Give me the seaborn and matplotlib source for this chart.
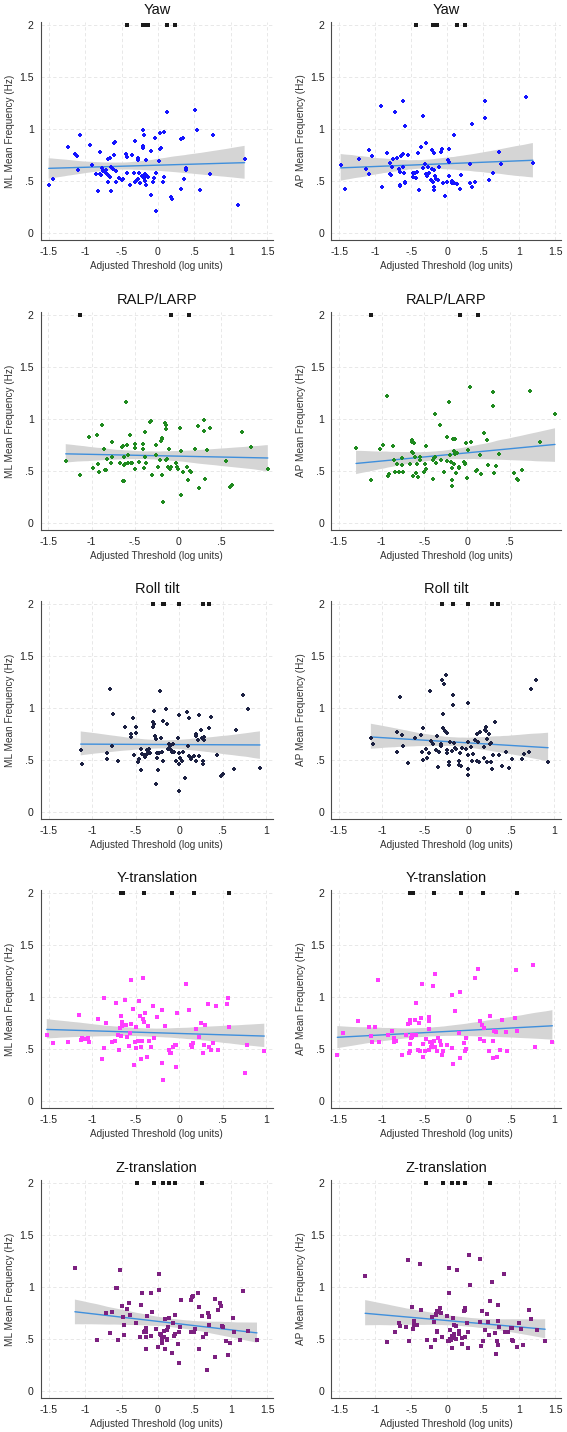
import numpy as np
import pandas as pd
import matplotlib
matplotlib.use("Agg")
import matplotlib.pyplot as plt
import seaborn as sns

sns.set_style("white")
plt.rcParams['font.family'] = ['Liberation Sans', 'DejaVu Sans']

# ---------------- data ----------------
titles = ["Yaw", "RALP/LARP", "Roll tilt", "Y-translation", "Z-translation"]
ylabels = ["ML Mean Frequency (Hz)", "AP Mean Frequency (Hz)"]
xlabel = "Adjusted Threshold (log units)"
point_colors = ["#1414ff", "#1f8a1f", "#1c2142", "#ff3cff", "#7c2080"]

yticks = [0, 0.5, 1, 1.5, 2]
ytick_labels = ["0", ".5", "1", "1.5", "2"]
xticks_r1 = [-1.5, -1, -0.5, 0, 0.5, 1, 1.5]
xlabels_r1 = ["-1.5", "-1", "-.5", "0", ".5", "1", "1.5"]
xticks_r2 = [-1.5, -1, -0.5, 0, 0.5]
xlabels_r2 = ["-1.5", "-1", "-.5", "0", ".5"]
xticks_r3 = [-1.5, -1, -0.5, 0, 0.5, 1]
xlabels_r3 = ["-1.5", "-1", "-.5", "0", ".5", "1"]

# Yaw
yaw_ml = [(-1.50,0.46),(-1.44,0.52),(-1.24,0.83),(-1.14,0.76),(-1.11,0.74),(-1.10,0.61),(-1.07,0.94),(-0.93,0.85),(-0.90,0.65),(-0.85,0.57),(-0.82,0.40),(-0.80,0.57),(-0.79,0.78),(-0.78,0.56),(-0.77,0.63),(-0.75,0.60),(-0.72,0.61),(-0.71,0.58),(-0.69,0.56),(-0.68,0.49),(-0.68,0.71),(-0.66,0.72),(-0.66,0.54),(-0.65,0.64),(-0.64,0.40),(-0.62,0.62),(-0.61,0.87),(-0.60,0.75),(-0.59,0.88),(-0.58,0.49),(-0.57,0.60),(-0.53,0.53),(-0.49,0.51),(-0.48,0.52),(-0.44,0.76),(-0.43,0.58),(-0.42,0.73),(-0.42,0.58),(-0.38,0.46),(-0.35,0.75),(-0.33,0.58),(-0.32,0.89),(-0.31,0.49),(-0.30,0.50),(-0.28,0.72),(-0.27,0.70),(-0.27,0.52),(-0.26,0.58),(-0.24,0.48),(-0.22,0.55),(-0.21,0.99),(-0.21,0.84),(-0.20,0.82),(-0.19,0.94),(-0.19,0.53),(-0.18,0.57),(-0.18,0.50),(-0.17,0.46),(-0.17,0.70),(-0.16,0.56),(-0.14,0.54),(-0.10,0.79),(-0.10,0.37),(-0.07,0.49),(-0.06,0.53),(-0.04,0.91),(-0.03,0.21),(-0.02,0.58),(0.02,0.69),(0.03,0.96),(0.03,0.81),(0.04,0.82),(0.07,0.49),(0.08,0.54),(0.09,0.97),(0.13,1.16),(0.18,0.35),(0.19,0.33),(0.31,0.42),(0.32,0.90),(0.35,0.91),(0.36,0.52),(0.38,0.63),(0.38,0.61),(0.51,1.18),(0.53,0.99),(0.58,0.41),(0.72,0.57),(0.75,0.94),(1.10,0.27),(1.19,0.71)]
yaw_ap = [(-1.48,0.65),(-1.42,0.42),(-1.22,0.71),(-1.13,0.62),(-1.09,0.80),(-1.08,0.57),(-1.05,0.74),(-0.92,1.22),(-0.90,0.44),(-0.84,0.77),(-0.80,0.67),(-0.79,0.57),(-0.78,0.56),(-0.77,0.64),(-0.75,0.71),(-0.73,1.16),(-0.70,0.72),(-0.67,0.62),(-0.66,0.59),(-0.66,0.46),(-0.65,0.45),(-0.64,0.74),(-0.62,0.76),(-0.61,1.27),(-0.61,0.64),(-0.60,0.58),(-0.59,0.49),(-0.58,1.03),(-0.58,0.48),(-0.55,0.75),(-0.48,0.58),(-0.47,0.54),(-0.45,0.58),(-0.44,0.53),(-0.42,0.59),(-0.41,0.77),(-0.39,0.41),(-0.36,0.83),(-0.34,1.13),(-0.33,0.63),(-0.31,0.66),(-0.30,0.87),(-0.29,0.57),(-0.28,0.55),(-0.27,0.64),(-0.27,0.57),(-0.25,0.58),(-0.23,0.51),(-0.21,0.80),(-0.21,0.62),(-0.20,0.49),(-0.19,0.77),(-0.19,0.61),(-0.18,0.44),(-0.18,0.41),(-0.17,0.55),(-0.15,0.52),(-0.13,0.51),(-0.12,0.64),(-0.09,0.78),(-0.07,0.81),(-0.06,0.48),(-0.03,0.36),(-0.01,0.49),(0.01,0.70),(0.02,0.68),(0.03,0.55),(0.03,0.81),(0.06,0.48),(0.07,0.50),(0.09,0.94),(0.10,0.48),(0.13,0.47),(0.18,0.42),(0.19,0.56),(0.31,0.66),(0.31,0.48),(0.34,0.44),(0.35,1.05),(0.38,0.49),(0.39,0.49),(0.52,1.11),(0.53,1.27),(0.58,0.51),(0.64,0.58),(0.72,0.78),(0.74,0.66),(1.10,1.31),(1.19,0.67)]
yaw_cap_x = [-0.43, -0.20, -0.17, -0.15, -0.14, 0.13, 0.24]
yaw_cap_y = [2, 2, 2, 2, 2, 2, 2]

# RALP/LARP
ralp_ml = [(-1.30,0.60),(-1.13,0.46),(-1.03,0.83),(-0.98,0.53),(-0.94,0.85),(-0.93,0.57),(-0.92,0.49),(-0.88,0.94),(-0.86,0.71),(-0.85,0.51),(-0.83,0.51),(-0.82,0.62),(-0.78,0.58),(-0.77,0.64),(-0.76,0.78),(-0.67,0.58),(-0.65,0.73),(-0.64,0.74),(-0.64,0.40),(-0.63,0.40),(-0.63,0.64),(-0.62,0.56),(-0.61,0.57),(-0.60,1.16),(-0.59,0.75),(-0.58,0.65),(-0.58,0.58),(-0.56,0.85),(-0.55,0.58),(-0.53,0.58),(-0.50,0.72),(-0.50,0.76),(-0.50,0.52),(-0.45,0.59),(-0.40,0.76),(-0.40,0.71),(-0.39,0.53),(-0.38,0.88),(-0.38,0.64),(-0.37,0.58),(-0.32,0.97),(-0.31,0.98),(-0.30,0.46),(-0.26,0.75),(-0.25,0.65),(-0.23,0.54),(-0.21,0.61),(-0.20,0.79),(-0.19,0.81),(-0.18,0.82),(-0.18,0.46),(-0.17,0.20),(-0.15,0.96),(-0.14,0.94),(-0.14,0.90),(-0.14,0.61),(-0.13,0.62),(-0.12,0.54),(-0.10,0.71),(-0.09,0.52),(-0.08,0.54),(-0.02,0.58),(-0.01,0.54),(0.00,0.52),(0.02,0.91),(0.03,0.69),(0.04,0.27),(0.06,0.49),(0.10,0.54),(0.12,0.41),(0.14,0.50),(0.15,0.49),(0.20,0.71),(0.24,0.34),(0.23,0.93),(0.30,0.99),(0.30,0.89),(0.31,0.42),(0.34,0.70),(0.37,0.91),(0.55,0.60),(0.60,0.35),(0.63,0.37),(0.74,0.88),(0.85,0.73),(1.04,0.52)]
ralp_ap = [(-1.30,0.72),(-1.13,0.41),(-1.02,0.71),(-0.98,0.75),(-0.94,1.22),(-0.93,0.45),(-0.92,0.47),(-0.87,0.74),(-0.85,0.61),(-0.84,0.49),(-0.82,0.57),(-0.80,0.49),(-0.76,0.63),(-0.76,0.56),(-0.75,0.49),(-0.67,0.57),(-0.65,0.80),(-0.64,0.78),(-0.64,0.68),(-0.63,0.67),(-0.63,0.45),(-0.62,0.77),(-0.61,0.64),(-0.60,0.48),(-0.59,0.57),(-0.57,0.44),(-0.55,0.64),(-0.55,0.61),(-0.51,0.49),(-0.49,0.57),(-0.48,0.74),(-0.48,0.52),(-0.40,0.61),(-0.40,0.42),(-0.39,0.63),(-0.38,1.05),(-0.37,0.64),(-0.36,0.58),(-0.32,0.94),(-0.30,0.61),(-0.27,0.49),(-0.24,0.83),(-0.23,0.60),(-0.21,1.16),(-0.20,0.65),(-0.19,0.59),(-0.18,0.53),(-0.18,0.41),(-0.18,0.36),(-0.17,0.81),(-0.15,0.57),(-0.15,0.69),(-0.14,0.81),(-0.14,0.66),(-0.13,0.48),(-0.12,0.67),(-0.10,0.54),(-0.09,0.53),(-0.04,0.59),(-0.03,0.57),(-0.02,0.58),(-0.01,0.77),(0.00,0.43),(0.01,0.70),(0.04,1.31),(0.05,0.78),(0.10,0.50),(0.12,0.51),(0.15,0.65),(0.16,0.47),(0.20,0.87),(0.23,0.80),(0.24,0.56),(0.30,1.26),(0.30,1.13),(0.31,0.48),(0.34,0.55),(0.37,0.66),(0.55,0.48),(0.59,0.42),(0.60,0.41),(0.64,0.51),(0.74,1.27),(0.85,0.78),(1.03,1.05)]
ralp_cap_x = [-1.13, -0.08, 0.13]
ralp_cap_y = [2, 2, 2]

# Roll tilt
roll_ml = [(-1.13,0.60),(-1.11,0.46),(-0.83,0.57),(-0.83,0.51),(-0.79,1.18),(-0.77,0.64),(-0.76,0.94),(-0.70,0.49),(-0.62,0.82),(-0.55,0.75),(-0.55,0.72),(-0.53,0.90),(-0.52,0.55),(-0.49,0.82),(-0.49,0.76),(-0.47,0.48),(-0.46,0.51),(-0.44,0.40),(-0.44,0.61),(-0.42,0.56),(-0.40,0.55),(-0.39,0.53),(-0.38,0.55),(-0.37,0.60),(-0.36,0.57),(-0.34,0.61),(-0.33,0.57),(-0.30,0.87),(-0.30,0.82),(-0.29,0.97),(-0.29,0.85),(-0.28,0.73),(-0.27,0.70),(-0.26,0.27),(-0.25,0.57),(-0.25,0.52),(-0.24,0.40),(-0.23,0.57),(-0.22,1.16),(-0.21,0.71),(-0.20,0.58),(-0.18,0.88),(-0.18,0.49),(-0.15,0.99),(-0.14,0.85),(-0.13,0.61),(-0.11,0.65),(-0.10,0.64),(-0.09,0.60),(-0.08,0.58),(-0.07,0.65),(-0.06,0.58),(-0.03,0.49),(-0.01,0.71),(0.00,0.57),(0.00,0.46),(0.00,0.93),(0.00,0.20),(0.01,0.52),(0.03,0.49),(0.04,0.58),(0.07,0.33),(0.09,0.96),(0.10,0.64),(0.11,0.90),(0.11,0.54),(0.14,0.51),(0.14,0.52),(0.17,0.54),(0.20,0.73),(0.20,0.75),(0.20,0.49),(0.22,0.69),(0.23,0.93),(0.23,0.54),(0.25,0.79),(0.26,0.71),(0.27,0.49),(0.28,0.46),(0.29,0.72),(0.29,0.69),(0.35,0.81),(0.37,0.91),(0.44,0.55),(0.48,0.35),(0.51,0.37),(0.63,0.41),(0.65,0.79),(0.74,1.13),(0.79,0.99),(0.93,0.42)]
roll_ap = [(-1.13,0.71),(-1.11,0.65),(-0.83,0.77),(-0.83,0.58),(-0.79,1.11),(-0.77,0.74),(-0.76,0.64),(-0.70,0.47),(-0.62,0.71),(-0.55,0.74),(-0.54,0.58),(-0.52,0.81),(-0.52,0.50),(-0.49,0.61),(-0.48,0.52),(-0.46,0.57),(-0.45,0.57),(-0.44,1.16),(-0.43,0.68),(-0.41,0.65),(-0.37,0.60),(-0.36,0.73),(-0.35,0.43),(-0.34,0.58),(-0.32,0.64),(-0.32,0.65),(-0.30,1.27),(-0.29,0.81),(-0.29,0.94),(-0.28,1.23),(-0.27,0.78),(-0.26,1.32),(-0.25,0.60),(-0.25,0.57),(-0.24,0.76),(-0.22,0.45),(-0.22,0.48),(-0.21,0.67),(-0.19,0.59),(-0.17,1.13),(-0.17,1.03),(-0.16,0.66),(-0.15,0.62),(-0.14,0.61),(-0.11,0.49),(-0.10,0.45),(-0.10,0.49),(-0.09,0.57),(-0.08,0.44),(-0.07,0.62),(-0.02,0.61),(0.00,0.41),(0.00,0.36),(0.00,1.05),(0.00,0.55),(0.00,0.67),(0.03,0.63),(0.04,0.49),(0.06,0.56),(0.08,0.69),(0.10,0.75),(0.10,0.49),(0.11,0.67),(0.13,0.48),(0.14,0.77),(0.18,0.52),(0.19,0.63),(0.20,0.79),(0.21,0.82),(0.21,0.78),(0.22,0.48),(0.22,0.70),(0.24,0.75),(0.25,0.65),(0.27,0.66),(0.27,0.48),(0.28,0.41),(0.29,0.55),(0.31,0.87),(0.36,0.55),(0.40,0.44),(0.44,0.58),(0.48,0.42),(0.51,0.51),(0.63,0.51),(0.65,0.56),(0.71,0.58),(0.73,1.18),(0.79,1.27),(0.93,0.48)]
roll_cap_x = [-0.30, -0.18, -0.17, 0.00, 0.28, 0.35]
roll_cap_y = [2, 2, 2, 2, 2, 2]

# Y-translation
ytr_ml = [(-1.52,0.64),(-1.45,0.56),(-1.28,0.57),(-1.15,0.83),(-1.13,0.59),(-1.12,0.61),(-1.08,0.60),(-1.05,0.61),(-1.03,0.57),(-0.93,0.79),(-0.89,0.40),(-0.86,0.99),(-0.86,0.51),(-0.84,0.75),(-0.77,0.57),(-0.74,0.58),(-0.72,0.94),(-0.70,0.64),(-0.69,0.49),(-0.68,0.70),(-0.67,0.82),(-0.67,0.63),(-0.66,0.72),(-0.65,0.76),(-0.62,0.97),(-0.61,0.73),(-0.60,0.62),(-0.58,0.53),(-0.56,0.65),(-0.55,1.16),(-0.55,0.74),(-0.53,0.89),(-0.52,0.35),(-0.51,0.57),(-0.50,0.51),(-0.49,0.71),(-0.47,0.58),(-0.46,0.96),(-0.45,0.82),(-0.44,0.40),(-0.44,0.52),(-0.42,0.58),(-0.41,1.18),(-0.41,0.79),(-0.40,0.76),(-0.39,0.85),(-0.37,0.42),(-0.36,0.72),(-0.34,0.58),(-0.32,0.52),(-0.30,0.91),(-0.29,0.61),(-0.25,0.81),(-0.20,0.88),(-0.20,0.37),(-0.18,0.20),(-0.16,0.72),(-0.11,0.49),(-0.10,0.46),(-0.09,0.46),(-0.07,0.52),(-0.05,0.54),(-0.04,0.33),(-0.03,0.54),(-0.02,0.85),(0.08,1.13),(0.11,0.88),(0.14,0.54),(0.15,0.52),(0.16,0.56),(0.19,0.69),(0.23,0.62),(0.25,0.75),(0.28,0.46),(0.29,0.54),(0.30,0.73),(0.33,0.93),(0.34,0.52),(0.37,0.49),(0.39,0.56),(0.43,0.91),(0.45,0.49),(0.55,0.93),(0.56,0.99),(0.57,0.71),(0.76,0.27),(0.78,0.54),(0.98,0.48)]
ytr_ap = [(-1.52,0.44),(-1.45,0.65),(-1.28,0.77),(-1.15,0.71),(-1.13,0.63),(-1.12,0.57),(-1.08,0.71),(-1.05,1.16),(-1.03,0.57),(-0.93,0.64),(-0.89,0.67),(-0.86,0.61),(-0.86,0.57),(-0.84,0.58),(-0.77,0.44),(-0.72,0.64),(-0.70,0.74),(-0.69,0.46),(-0.68,0.78),(-0.68,0.48),(-0.67,0.55),(-0.67,0.75),(-0.66,0.61),(-0.65,0.64),(-0.65,0.62),(-0.62,0.78),(-0.60,0.94),(-0.60,0.64),(-0.58,0.49),(-0.57,0.75),(-0.56,0.48),(-0.55,0.80),(-0.53,1.13),(-0.52,0.55),(-0.52,0.42),(-0.50,0.48),(-0.49,0.60),(-0.46,0.81),(-0.46,0.69),(-0.45,0.77),(-0.45,0.49),(-0.44,0.57),(-0.43,0.52),(-0.42,0.54),(-0.41,1.11),(-0.40,0.58),(-0.39,1.22),(-0.38,0.52),(-0.36,0.48),(-0.35,0.61),(-0.33,0.58),(-0.31,0.54),(-0.30,0.44),(-0.29,0.48),(-0.25,0.54),(-0.19,1.02),(-0.19,0.51),(-0.17,0.36),(-0.15,0.87),(-0.11,0.65),(-0.09,1.05),(-0.09,0.41),(-0.05,0.56),(-0.04,0.48),(-0.02,0.50),(-0.02,0.61),(0.08,1.18),(0.11,1.27),(0.14,0.77),(0.14,0.60),(0.16,0.73),(0.18,0.70),(0.19,0.58),(0.24,0.48),(0.25,0.82),(0.29,0.41),(0.29,0.58),(0.30,0.67),(0.32,0.66),(0.34,0.42),(0.37,0.49),(0.39,0.78),(0.44,0.66),(0.45,0.48),(0.55,0.80),(0.56,1.26),(0.57,0.67),(0.76,1.31),(0.78,0.52),(0.98,0.57)]
ytr_cap_x = [-0.67, -0.64, -0.40, -0.08, 0.17, 0.57]
ytr_cap_y = [2, 2, 2, 2, 2, 2]

# Z-translation
ztr_ml = [(-1.14,1.18),(-0.84,0.49),(-0.72,0.75),(-0.66,0.56),(-0.63,0.76),(-0.57,0.99),(-0.56,0.99),(-0.55,0.49),(-0.52,1.16),(-0.49,0.82),(-0.48,0.71),(-0.47,0.64),(-0.47,0.54),(-0.43,0.79),(-0.40,0.85),(-0.38,0.73),(-0.30,0.65),(-0.24,0.52),(-0.23,0.83),(-0.22,0.94),(-0.19,0.57),(-0.18,0.58),(-0.17,0.52),(-0.16,0.57),(-0.16,0.40),(-0.16,0.61),(-0.15,0.72),(-0.10,0.94),(-0.09,0.53),(-0.08,0.76),(-0.02,0.60),(0.00,0.42),(0.02,1.13),(0.02,0.97),(0.03,0.55),(0.04,0.54),(0.05,0.50),(0.06,0.46),(0.08,0.52),(0.09,0.58),(0.10,0.40),(0.10,0.69),(0.12,0.49),(0.12,0.59),(0.13,0.50),(0.14,0.62),(0.15,0.70),(0.19,0.37),(0.20,0.65),(0.22,0.53),(0.23,0.55),(0.24,0.73),(0.28,0.45),(0.29,0.27),(0.29,0.57),(0.30,0.62),(0.32,0.88),(0.45,0.57),(0.46,0.88),(0.47,0.90),(0.48,0.91),(0.49,0.57),(0.51,0.60),(0.55,0.94),(0.56,0.40),(0.57,0.81),(0.60,0.72),(0.62,0.52),(0.66,0.55),(0.67,0.20),(0.69,0.75),(0.70,0.71),(0.70,0.72),(0.70,0.64),(0.78,0.89),(0.78,0.33),(0.83,0.78),(0.85,0.85),(0.86,0.82),(0.88,0.63),(0.89,0.62),(0.94,0.48),(0.96,0.35),(0.99,0.46),(1.03,0.70),(1.04,0.57),(1.12,0.49),(1.17,0.96),(1.24,0.58),(1.36,0.49)]
ztr_ap = [(-1.14,1.11),(-0.83,0.47),(-0.73,0.57),(-0.67,0.65),(-0.65,0.63),(-0.57,0.62),(-0.55,1.26),(-0.53,0.48),(-0.49,0.81),(-0.47,0.60),(-0.46,0.67),(-0.46,0.64),(-0.42,0.64),(-0.38,1.22),(-0.37,0.78),(-0.28,0.49),(-0.22,0.42),(-0.21,0.71),(-0.19,0.66),(-0.17,0.49),(-0.15,0.73),(-0.15,0.74),(-0.14,0.77),(-0.14,0.58),(-0.14,0.57),(-0.12,0.76),(-0.10,0.80),(-0.09,0.75),(-0.07,0.52),(0.00,0.72),(0.01,0.48),(0.02,0.48),(0.03,1.18),(0.03,0.94),(0.04,0.50),(0.04,0.59),(0.05,0.49),(0.06,0.41),(0.07,0.53),(0.08,0.70),(0.09,0.55),(0.10,0.64),(0.10,0.51),(0.12,0.50),(0.12,0.63),(0.14,1.16),(0.16,0.58),(0.17,0.55),(0.20,0.45),(0.21,0.51),(0.23,0.77),(0.24,0.80),(0.25,0.78),(0.25,0.52),(0.28,0.65),(0.29,0.57),(0.29,0.41),(0.30,1.31),(0.32,1.02),(0.45,1.27),(0.46,0.66),(0.47,0.43),(0.48,0.77),(0.50,0.48),(0.52,0.59),(0.55,0.74),(0.56,0.66),(0.58,0.54),(0.60,0.87),(0.62,1.05),(0.66,0.56),(0.68,0.36),(0.69,0.48),(0.70,0.44),(0.71,0.67),(0.71,0.83),(0.72,0.62),(0.79,1.13),(0.80,0.57),(0.85,0.57),(0.88,0.61),(0.90,0.61),(0.90,0.49),(0.92,0.48),(0.97,0.42),(1.00,0.65),(1.03,0.60),(1.05,0.44),(1.13,0.78),(1.17,0.69),(1.24,0.59),(1.36,0.48)]
ztr_cap_x = [-0.29, -0.06, 0.065, 0.15, 0.24, 0.60]
ztr_cap_y = [2, 2, 2, 2, 2, 2]

# ---------------- layout ----------------
rows = [
    dict(ml=yaw_ml, ap=yaw_ap, cx=yaw_cap_x, cy=yaw_cap_y, xt=xticks_r1, xl=xlabels_r1, xlim=(-1.61, 1.58), mk='P', ms=10),
    dict(ml=ralp_ml, ap=ralp_ap, cx=ralp_cap_x, cy=ralp_cap_y, xt=xticks_r2, xl=xlabels_r2, xlim=(-1.59, 1.10), mk='P', ms=10),
    dict(ml=roll_ml, ap=roll_ap, cx=roll_cap_x, cy=roll_cap_y, xt=xticks_r3, xl=xlabels_r3, xlim=(-1.59, 1.08), mk='P', ms=10),
    dict(ml=ytr_ml, ap=ytr_ap, cx=ytr_cap_x, cy=ytr_cap_y, xt=xticks_r3, xl=xlabels_r3, xlim=(-1.59, 1.08), mk='s', ms=5.5),
    dict(ml=ztr_ml, ap=ztr_ap, cx=ztr_cap_x, cy=ztr_cap_y, xt=xticks_r1, xl=xlabels_r1, xlim=(-1.61, 1.58), mk='s', ms=5.5),
]

W, H = 567, 1432
fig = plt.figure(figsize=(W / 100, H / 100), dpi=100)
fig.patch.set_facecolor("white")

row_y2 = [25, 315, 604, 893, 1183]
col_lr = [(40.7, 273.0), (331.3, 561.0)]
spine_col = "#4a4a4a"

for r, row in enumerate(rows):
    top = row_y2[r] - 3
    bottom = row_y2[r] + 215
    for c in range(2):
        L, R = col_lr[c]
        ax = fig.add_axes([L / W, 1 - bottom / H, (R - L) / W, (bottom - top) / H])
        pts = row['ml'] if c == 0 else row['ap']
        df = pd.DataFrame(pts, columns=["x", "y"])
        sns.regplot(data=df, x="x", y="y", ax=ax, scatter=False, ci=95, seed=3,
                    color="#808080", truncate=True,
                    line_kws=dict(color="#3f8fdc", lw=1.0, zorder=3))
        for coll in ax.collections:
            coll.set_facecolor("#d5d5d5")
            coll.set_alpha(1.0)
            coll.set_edgecolor("none")
            coll.set_zorder(1)
        sns.scatterplot(data=df, x="x", y="y", ax=ax, color=point_colors[r],
                        marker=row['mk'], s=row['ms'], linewidth=0, zorder=4)
        sns.scatterplot(x=row['cx'], y=row['cy'], ax=ax, color="#1a1a1a",
                        marker='s', s=5.5, linewidth=0, zorder=4)

        ax.set_xlim(*row['xlim'])
        ax.set_ylim(-0.067, 2.03)
        ax.set_xticks(row['xt'])
        ax.set_xticklabels(row['xl'])
        ax.set_yticks(yticks)
        ax.set_yticklabels(ytick_labels)
        ax.grid(True, ls=(0, (4, 3)), color="#e4e4e4", lw=0.6)
        ax.set_axisbelow(True)
        for s in ["top", "right"]:
            ax.spines[s].set_visible(False)
        for s in ["left", "bottom"]:
            ax.spines[s].set_color(spine_col)
            ax.spines[s].set_linewidth(0.8)
        ax.tick_params(axis="both", direction="out", length=3, width=0.6,
                       color=spine_col, labelsize=7.6, labelcolor="#222222", pad=2)
        ax.set_title(titles[r], fontsize=10.5, pad=5.5, color="#111111")
        ax.set_xlabel(xlabel, fontsize=7.2, color="#333333", labelpad=3)
        ax.set_ylabel(ylabels[c], fontsize=7.2, color="#333333", labelpad=3)

fig.savefig("out.png", dpi=100, facecolor="white")
